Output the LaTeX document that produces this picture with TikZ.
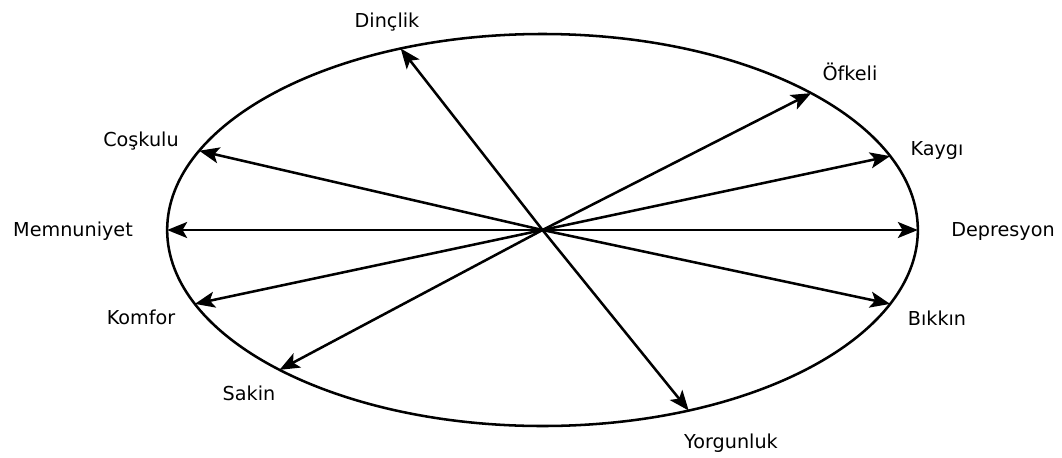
\documentclass[tikz,border=0pt]{standalone}
\usepackage{fontspec}
\setmainfont{DejaVu Sans}
\usetikzlibrary{shapes.geometric,arrows.meta}
\tikzset{
  oval/.style={ellipse, draw=black, line width=1.9pt, minimum width=563pt, minimum height=294pt, inner sep=0pt, outer sep=0pt},
  arr/.style={-{Stealth[length=15pt, width=12pt, inset=3.5pt]}, draw=black, line width=1.9pt},
  lbl/.style={anchor=base, inner sep=0pt, font=\fontsize{14.4}{17}\selectfont},
}

\begin{document}
\begin{tikzpicture}[x=0.75pt, y=-0.75pt]
\useasboundingbox (0,0) rectangle (1062,457);
\node[oval] (ring) at (542.5,230) {};
% labels
\node[lbl] (dinc) at (387,27) {Dinçlik};
\node[lbl] (ofke) at (850,80) {Öfkeli};
\node[lbl] (kayg) at (937,155) {Kaygı};
\node[lbl] (depr) at (1003,236) {Depresyon};
\node[lbl] (bikk) at (937,325) {Bıkkın};
\node[lbl] (yorg) at (731,448) {Yorgunluk};
\node[lbl] (saki) at (249,400) {Sakin};
\node[lbl] (komf) at (141,324) {Komfor};
\node[lbl] (memn) at (73,236) {Memnuniyet};
\node[lbl] (cosk) at (141,146) {Coşkulu};
% arrows
\foreach \ang in {128.3,27.5,12.6,0,-12.6,-51.4,208.3,192.3,180,167.7}
  \draw[arr] (ring.center) -- (ring.\ang);
\end{tikzpicture}
\end{document}
